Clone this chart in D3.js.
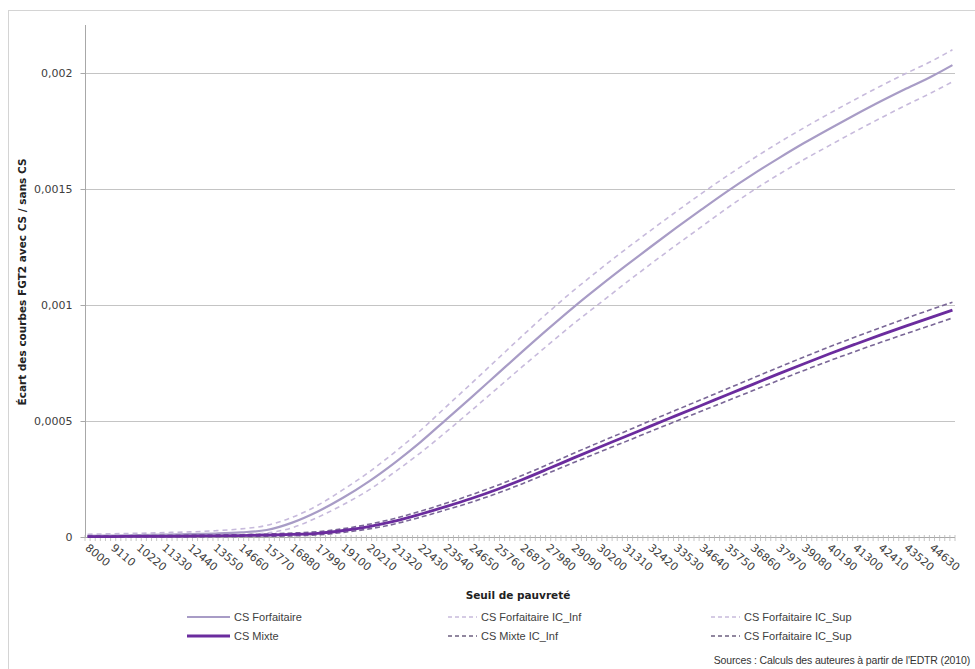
<!DOCTYPE html>
<html>
<head>
<meta charset="utf-8">
<script src="https://cdn.jsdelivr.net/npm/d3@7"></script>
<style>
  html, body { margin: 0; padding: 0; background: #fff; }
  svg { display: block; }
</style>
</head>
<body>
<svg id="chart" width="975" height="669"></svg>
<script>
// ---------- DATA ----------
const thresholds = [8000, 9110, 10220, 11330, 12440, 13550, 14660, 15770, 16880, 17990,
  19100, 20210, 21320, 22430, 23540, 24650, 25760, 26870, 27980, 29090,
  30200, 31310, 32420, 33530, 34640, 35750, 36860, 37970, 39080, 40190,
  41300, 42410, 43520, 44630, 45518];

const xTickLabels = ["8000","9110","10220","11330","12440","13550","14660","15770","16880","17990",
  "19100","20210","21320","22430","23540","24650","25760","26870","27980","29090",
  "30200","31310","32420","33530","34640","35750","36860","37970","39080","40190",
  "41300","42410","43520","44630"];
const xTickValues = [8000, 9110, 10220, 11330, 12440, 13550, 14660, 15770, 16880, 17990,
  19100, 20210, 21320, 22430, 23540, 24650, 25760, 26870, 27980, 29090,
  30200, 31310, 32420, 33530, 34640, 35750, 36860, 37970, 39080, 40190,
  41300, 42410, 43520, 44630];

const yTickValues = [0, 0.0005, 0.001, 0.0015, 0.002];
const yTickLabels = ["0", "0,0005", "0,001", "0,0015", "0,002"];

const csForfaitaire = [0.000005, 0.000006, 0.000008, 0.00001, 0.000012, 0.000015, 0.00002, 0.00003, 0.000062, 0.00011,
  0.00017, 0.00024, 0.00032, 0.000408, 0.000505, 0.000602, 0.000701, 0.0008, 0.000897, 0.000991,
  0.00108, 0.001166, 0.00125, 0.001332, 0.001412, 0.00149, 0.001563, 0.001632, 0.001698, 0.00176,
  0.00182, 0.001878, 0.001933, 0.001986, 0.002034];
const csForfaitaireInf = [0.000002, 0.000002, 0.000003, 0.000004, 0.000005, 0.000007, 0.00001, 0.000017, 0.00004, 0.000085,
  0.00014, 0.000203, 0.00028, 0.000362, 0.000452, 0.000545, 0.00064, 0.000735, 0.000828, 0.00092,
  0.001006, 0.001092, 0.001176, 0.001258, 0.001338, 0.001418, 0.001493, 0.001562, 0.001627, 0.001688,
  0.001748, 0.001806, 0.001862, 0.001916, 0.001962];
const csForfaitaireSup = [0.000012, 0.000014, 0.000016, 0.000019, 0.000022, 0.000027, 0.000035, 0.00005, 0.000085, 0.000137,
  0.000205, 0.00028, 0.000365, 0.000458, 0.00056, 0.000662, 0.000765, 0.000868, 0.000968, 0.001063,
  0.001152, 0.001238, 0.001321, 0.001402, 0.001481, 0.001557, 0.00163, 0.001699, 0.001764, 0.001826,
  0.001886, 0.001944, 0.001999, 0.002052, 0.0021];

const csMixte = [0.000002, 0.000002, 0.000003, 0.000003, 0.000004, 0.000005, 0.000006, 0.000008, 0.000011, 0.000016,
  0.000028, 0.000045, 0.000068, 0.000098, 0.000131, 0.000166, 0.000205, 0.000248, 0.000294, 0.000341,
  0.000387, 0.000432, 0.000478, 0.000523, 0.000568, 0.000613, 0.000658, 0.000703, 0.000747, 0.00079,
  0.000831, 0.000871, 0.00091, 0.000948, 0.000978];
const csMixteInf = [0.0, 0.0, 0.0, 0.0, 0.0, 0.000001, 0.000002, 0.000003, 0.000005, 0.000009,
  0.00002, 0.000035, 0.000056, 0.000085, 0.000117, 0.00015, 0.000188, 0.00023, 0.000275, 0.000321,
  0.000366, 0.00041, 0.000455, 0.000499, 0.000543, 0.000587, 0.000631, 0.000675, 0.000718, 0.00076,
  0.0008, 0.000839, 0.000877, 0.000914, 0.000944];
const csMixteSup = [0.000005, 0.000005, 0.000006, 0.000007, 0.000008, 0.000009, 0.00001, 0.000013, 0.000017, 0.000023,
  0.000036, 0.000055, 0.00008, 0.000111, 0.000145, 0.000182, 0.000222, 0.000266, 0.000313, 0.000361,
  0.000408, 0.000454, 0.000501, 0.000547, 0.000593, 0.000639, 0.000685, 0.000731, 0.000776, 0.00082,
  0.000862, 0.000903, 0.000943, 0.000982, 0.001012];

const legendLabels = ["CS Forfaitaire", "CS Forfaitaire IC_Inf", "CS Forfaitaire IC_Sup",
  "CS Mixte", "CS Mixte IC_Inf", "CS Forfaitaire IC_Sup"];

// ---------- LAYOUT ----------
const svg = d3.select("#chart");
const FONT = "DejaVu Sans, Verdana, sans-serif";
const plot = { left: 85, right: 955, top: 25, bottom: 537 };

const x = d3.scaleLinear().domain([7889, 45629]).range([plot.left, plot.right]);
const y = d3.scaleLinear().domain([0, 0.0022]).range([plot.bottom, plot.bottom - 0.0022 / 0.0005 * 116]);

// outer frame
svg.append("rect").attr("x", 8.5).attr("y", 10.5).attr("width", 1000).attr("height", 700)
  .attr("fill", "none").attr("stroke", "#d4d4d4");

// gridlines
svg.append("g").selectAll("line").data(yTickValues.filter(d => d > 0)).join("line")
  .attr("x1", plot.left).attr("x2", plot.right)
  .attr("y1", d => Math.round(y(d)) + 0.5).attr("y2", d => Math.round(y(d)) + 0.5)
  .attr("stroke", "#c4c4c4").attr("stroke-width", 1);

// y axis
const yAxis = d3.axisLeft(y).tickValues(yTickValues)
  .tickFormat((d, i) => yTickLabels[i]).tickSize(5).tickPadding(8);
const gy = svg.append("g").attr("transform", `translate(${plot.left + 0.5},0)`).call(yAxis);
gy.select(".domain").attr("stroke", "#a8a8a8").attr("d", `M0,${plot.top}V${plot.bottom}`);
gy.selectAll(".tick line").attr("stroke", "#a8a8a8");
gy.selectAll(".tick text").attr("font-family", FONT).attr("font-size", 11).attr("fill", "#404040");

// x axis line + minor ticks
const minorTicks = d3.range(0, 171).map(k => 7889 + k * 222);
svg.append("line").attr("x1", plot.left).attr("x2", plot.right)
  .attr("y1", plot.bottom + 0.5).attr("y2", plot.bottom + 0.5).attr("stroke", "#a8a8a8");
svg.append("g").selectAll("line").data(minorTicks).join("line")
  .attr("x1", d => x(d)).attr("x2", d => x(d))
  .attr("y1", plot.bottom - 2).attr("y2", plot.bottom + 4)
  .attr("stroke", "#b8b8b8").attr("stroke-width", 0.8);

// x tick labels (rotated)
svg.append("g").selectAll("text").data(xTickValues).join("text")
  .attr("transform", d => `translate(${x(d) - 3},${plot.bottom + 12}) rotate(40)`)
  .attr("font-family", FONT).attr("font-size", 11).attr("fill", "#404040")
  .attr("text-anchor", "start")
  .text((d, i) => xTickLabels[i]);

// axis titles
svg.append("text").attr("x", 518).attr("y", 599).attr("text-anchor", "middle")
  .attr("font-family", FONT).attr("font-size", 10.5).attr("font-weight", "bold").attr("fill", "#222")
  .text("Seuil de pauvreté");
svg.append("text").attr("transform", `translate(26,282) rotate(-90)`).attr("text-anchor", "middle")
  .attr("font-family", FONT).attr("font-size", 10.5).attr("font-weight", "bold").attr("fill", "#222")
  .text("Écart des courbes FGT2 avec CS / sans CS");

// ---------- SERIES ----------
const line = d3.line().x(d => x(d[0])).y(d => y(d[1])).curve(d3.curveMonotoneX);
const series = [
  { v: csForfaitaireInf, color: "#c7badc", width: 1.6, dash: "5,4" },
  { v: csForfaitaireSup, color: "#c7badc", width: 1.6, dash: "5,4" },
  { v: csForfaitaire, color: "#a89cc6", width: 2.2, dash: null },
  { v: csMixteInf, color: "#7a6797", width: 1.6, dash: "5,3" },
  { v: csMixteSup, color: "#7a6797", width: 1.6, dash: "5,3" },
  { v: csMixte, color: "#6b2c9e", width: 2.8, dash: null }
];
const gl = svg.append("g");
series.forEach(s => {
  gl.append("path").datum(thresholds.map((t, i) => [t, s.v[i]]))
    .attr("d", line).attr("fill", "none")
    .attr("stroke", s.color).attr("stroke-width", s.width)
    .attr("stroke-dasharray", s.dash);
});

// ---------- LEGEND ----------
const legendStyles = [
  { color: "#a89cc6", width: 2.2, dash: null, len: 43 },
  { color: "#c7badc", width: 1.6, dash: "4,3", len: 29 },
  { color: "#c7badc", width: 1.6, dash: "4,3", len: 29 },
  { color: "#6b2c9e", width: 3, dash: null, len: 43 },
  { color: "#6e6080", width: 1.6, dash: "4,3", len: 29 },
  { color: "#6e6080", width: 1.6, dash: "4,3", len: 29 }
];
const colX = [187, 448, 711];
const rowY = [617, 636];
const lg = svg.append("g");
legendLabels.forEach((lab, i) => {
  const cx = colX[i % 3], cy = rowY[Math.floor(i / 3)];
  const st = legendStyles[i];
  lg.append("line").attr("x1", cx).attr("x2", cx + st.len).attr("y1", cy).attr("y2", cy)
    .attr("stroke", st.color).attr("stroke-width", st.width).attr("stroke-dasharray", st.dash);
  lg.append("text").attr("x", cx + st.len + 4).attr("y", cy + 4)
    .attr("font-family", "Liberation Sans, Arial, sans-serif")
    .attr("font-size", 11).attr("fill", "#404040").text(lab);
});

// source
svg.append("text").attr("x", 970).attr("y", 664).attr("text-anchor", "end")
  .attr("font-family", "Liberation Sans, Arial, sans-serif")
  .attr("font-size", 10.5).attr("letter-spacing", -0.15).attr("fill", "#333")
  .text("Sources :  Calculs des auteures à partir de l'EDTR (2010)");
</script>
</body>
</html>
